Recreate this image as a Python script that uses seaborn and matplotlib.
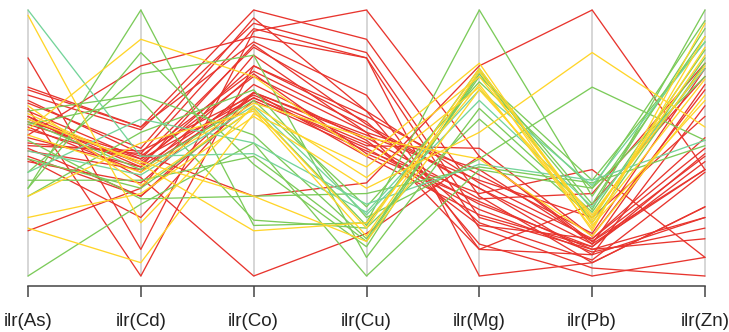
import matplotlib
matplotlib.use("Agg")
import matplotlib.pyplot as plt
import seaborn as sns
import pandas as pd

variables = ["ilr(As)", "ilr(Cd)", "ilr(Co)", "ilr(Cu)", "ilr(Mg)", "ilr(Pb)", "ilr(Zn)"]

group = (["red"] * 25) + (["green"] * 11) + (["mint"] * 3) + (["yellow"] * 9)

As = [0.82, 0.70, 0.68, 0.66, 0.71, 0.62, 0.60, 0.58, 0.55, 0.52, 0.49, 0.47, 0.45, 0.44, 0.60, 0.17, 0.63, 0.53, 0.50, 0.57, 0.65, 0.43, 0.59, 0.48, 0.56,
      0.00, 0.33, 0.39, 0.33, 0.62, 0.57, 0.30, 0.44, 0.51, 0.58, 0.36,
      1.00, 0.39, 0.47,
      0.98, 0.55, 0.30, 0.22, 0.18, 0.61, 0.53, 0.64, 0.59]
Cd = [0.10, 0.56, 0.55, 0.46, 0.56, 0.44, 0.42, 0.45, 0.43, 0.41, 0.47, 0.40, 0.30, 0.22, 0.37, 0.33, 0.00, 0.79, 0.46, 0.44, 0.48, 0.35, 0.41, 0.30, 0.39,
      0.27, 1.00, 0.76, 0.84, 0.68, 0.66, 0.54, 0.33, 0.29, 0.40, 0.36,
      0.45, 0.59, 0.38,
      0.20, 0.89, 0.50, 0.31, 0.05, 0.42, 0.39, 0.34, 0.43]
Co = [0.92, 1.00, 0.95, 0.93, 0.88, 0.86, 0.79, 0.77, 0.75, 0.69, 0.68, 0.67, 0.66, 0.69, 0.00, 0.83, 0.79, 0.90, 0.30, 0.67, 0.97, 0.72, 0.87, 0.69, 0.76,
      0.50, 0.19, 0.83, 0.42, 0.53, 0.21, 0.70, 0.63, 0.30, 0.66, 0.45,
      0.46, 0.50, 0.64,
      0.64, 0.75, 0.62, 0.60, 0.61, 0.17, 0.65, 0.63, 0.30]
Cu = [1.00, 0.89, 0.84, 0.82, 0.68, 0.62, 0.60, 0.56, 0.54, 0.52, 0.50, 0.48, 0.47, 0.45, 0.16, 0.54, 0.58, 0.82, 0.35, 0.49, 0.62, 0.51, 0.57, 0.53, 0.46,
      0.00, 0.20, 0.07, 0.11, 0.14, 0.18, 0.22, 0.19, 0.31, 0.26, 0.13,
      0.24, 0.27, 0.23,
      0.37, 0.45, 0.15, 0.33, 0.41, 0.20, 0.52, 0.18, 0.13]
Mg = [0.45, 0.30, 0.22, 0.18, 0.10, 0.35, 0.38, 0.33, 0.40, 0.29, 0.27, 0.25, 0.31, 0.23, 0.45, 0.10, 0.20, 0.00, 0.79, 0.48, 0.12, 0.19, 0.33, 0.36, 0.28,
      0.40, 1.00, 0.63, 0.77, 0.75, 0.59, 0.44, 0.78, 0.41, 0.73, 0.76,
      0.70, 0.42, 0.66,
      0.71, 0.80, 0.77, 0.54, 0.75, 0.72, 0.44, 0.78, 0.70]
Pb = [0.12, 0.05, 0.10, 0.03, 0.08, 0.14, 0.16, 0.12, 0.13, 0.31, 0.11, 0.09, 0.40, 0.11, 0.13, 0.27, 0.06, 0.05, 1.00, 0.15, 0.00, 0.14, 0.08, 0.22, 0.10,
      0.33, 0.30, 0.24, 0.27, 0.36, 0.22, 0.71, 0.20, 0.35, 0.33, 0.25,
      0.34, 0.36, 0.26,
      0.20, 0.19, 0.17, 0.84, 0.22, 0.18, 0.15, 0.21, 0.23]
Zn = [0.40, 0.26, 0.14, 0.00, 0.22, 0.48, 0.78, 0.72, 0.45, 0.80, 0.43, 0.18, 0.07, 0.46, 0.40, 0.75, 0.39, 0.26, 0.40, 0.70, 0.07, 0.52, 0.64, 0.60, 0.22,
      0.96, 0.90, 0.85, 0.93, 0.88, 0.82, 0.51, 0.80, 0.49, 0.75, 1.00,
      0.88, 0.51, 0.78,
      0.74, 0.66, 0.95, 0.56, 0.83, 0.90, 0.68, 0.86, 0.79]

palette = {"red": "#E8352E", "green": "#7CCB5A", "mint": "#74D49A", "yellow": "#FFD52A"}

columns = [As, Cd, Co, Cu, Mg, Pb, Zn]
rows = []
for i in range(len(group)):
    for j, col in enumerate(columns):
        rows.append({"id": i, "pos": j, "value": col[i], "group": group[i]})
df = pd.DataFrame(rows)

sns.set_style("white")
plt.rcParams["font.family"] = ["Liberation Sans", "DejaVu Sans"]

fig = plt.figure(figsize=(7.29, 3.32), dpi=100)
ax = fig.add_axes([28 / 729, (332 - 276) / 332, 677 / 729, 266 / 332])

for j in range(len(variables)):
    ax.plot([j, j], [0, 1], color="#D6D6D6", lw=1.4, zorder=0, clip_on=False)

sns.lineplot(data=df, x="pos", y="value", units="id", hue="group", estimator=None,
             palette=palette, sort=False, lw=0.95, legend=False, ax=ax)
for line in ax.lines[len(variables):]:
    line.set_clip_on(False)

ax.set_xlim(0, 6)
ax.set_ylim(0, 1)
ax.set_xlabel("")
ax.set_ylabel("")
ax.set_yticks([])
ax.set_xticks(range(len(variables)))
ax.set_xticklabels(variables)
for s in ["top", "right", "left"]:
    ax.spines[s].set_visible(False)
ax.spines["bottom"].set_position(("outward", 7.5))
ax.spines["bottom"].set_bounds(0, 6)
ax.spines["bottom"].set_color("#444444")
ax.spines["bottom"].set_linewidth(1.1)
ax.tick_params(axis="x", which="major", bottom=True, direction="out", length=8, width=1.1,
               color="#444444", pad=11, labelsize=13.5, labelcolor="#222222")

fig.savefig("out.png", dpi=100)
